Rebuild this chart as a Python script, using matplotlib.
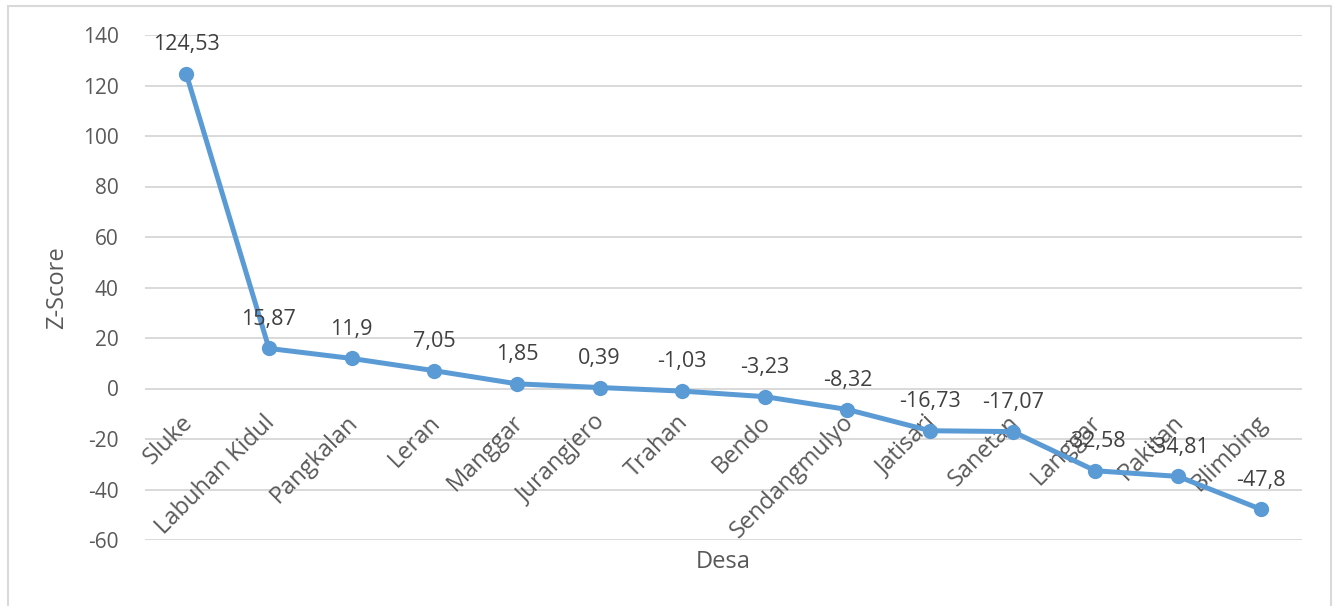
import matplotlib.pyplot as plt
from matplotlib.patches import Rectangle

# Z-score per village
desa = ['Sluke', 'Labuhan Kidul', 'Pangkalan', 'Leran', 'Manggar', 'Jurangjero',
        'Trahan', 'Bendo', 'Sendangmulyo', 'Jatisari', 'Sanetan', 'Langgar',
        'Rakitan', 'Blimbing']
zscore = [124.53, 15.87, 11.9, 7.05, 1.85, 0.39, -1.03, -3.23, -8.32,
          -16.73, -17.07, -32.58, -34.81, -47.8]
yticks = [-60, -40, -20, 0, 20, 40, 60, 80, 100, 120, 140]

plt.rcParams['font.family'] = ['Open Sans', 'DejaVu Sans']
plt.rcParams['axes.unicode_minus'] = False

fig = plt.figure(figsize=(13.34, 6.06), dpi=100)
ax = fig.add_axes([145 / 1334, 1 - 540 / 606, 1157 / 1334, 505 / 606])

# light frame round the chart area
fig.patches.append(Rectangle((8 / 1334, -0.05), (1331 - 8) / 1334, 1.05 - 6 / 606,
                             transform=fig.transFigure, fill=False,
                             edgecolor='#d9d9d9', linewidth=1.5))

x = list(range(len(desa)))
ax.plot(x, zscore, color='#5b9bd5', linewidth=3.6, marker='o', markersize=11,
        markeredgewidth=0, solid_capstyle='round', zorder=3)

# value labels, decimal comma
for xi, v in zip(x, zscore):
    txt = ('%g' % v).replace('.', ',')
    ax.annotate(txt, (xi, v), xytext=(0, 17), textcoords='offset points',
                ha='center', va='baseline', fontsize=15.5, color='#404040', zorder=4)

# category names hang just below the zero line
for xi, name in zip(x, desa):
    ax.annotate(name, (xi, 0), xytext=(2, -22), textcoords='offset points',
                rotation=45, rotation_mode='anchor', ha='right', va='center',
                fontsize=17, color='#595959', zorder=2)

ax.set_xlim(-0.5, len(desa) - 0.5)
ax.set_ylim(-60, 140)
ax.set_yticks(yticks)
ax.set_xticks([])
ax.yaxis.grid(True, color='#d9d9d9', linewidth=1.4)
ax.set_axisbelow(True)
ax.tick_params(axis='y', length=0, labelsize=15, labelcolor='#595959', pad=19)
for s in ax.spines.values():
    s.set_visible(False)

fig.text(57 / 1334, 1 - 288 / 606, 'Z-Score', rotation=90, ha='center', va='center',
         fontsize=17, color='#595959')
fig.text(723 / 1334, 1 - 562 / 606, 'Desa', ha='center', va='center',
         fontsize=17, color='#595959')

fig.savefig('out.png', dpi=100)
